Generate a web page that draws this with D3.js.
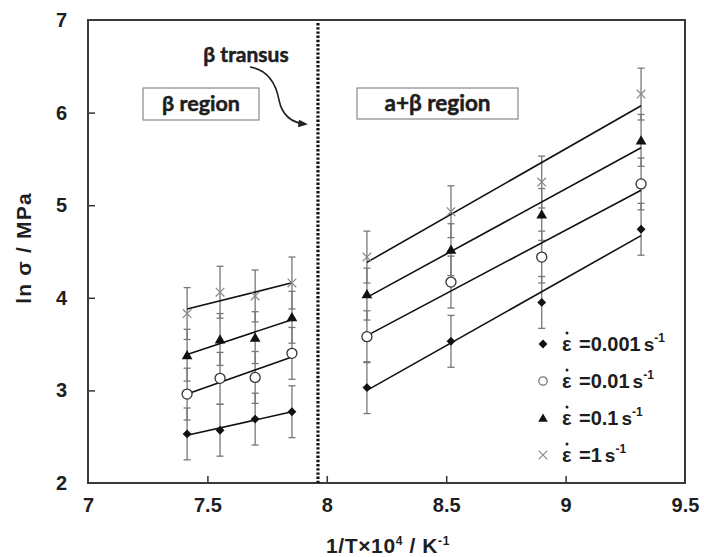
<!DOCTYPE html>
<html><head><meta charset="utf-8">
<script src="https://cdn.jsdelivr.net/npm/d3@7"></script>
<style>body{margin:0;background:#fff}svg{display:block}</style>
</head><body>
<svg id="c" width="704" height="557"></svg>
<script>
// ---- data ----
const xBeta = [7.415, 7.553, 7.70, 7.854];
const xAlphaBeta = [8.168, 8.52, 8.90, 9.316];
const seriesNames = ["0.001", "0.01", "0.1", "1"];
const betaValues = [
  [2.53, 2.57, 2.69, 2.77],
  [2.96, 3.13, 3.14, 3.40],
  [3.38, 3.55, 3.57, 3.79],
  [3.83, 4.06, 4.02, 4.16]
];
const alphaBetaValues = [
  [3.03, 3.53, 3.95, 4.74],
  [3.58, 4.17, 4.44, 5.23],
  [4.04, 4.52, 4.90, 5.70],
  [4.44, 4.93, 5.25, 6.20]
];
const errorHalf = [0.28, 0.28, 0.28, 0.28];
const xTicks = [7, 7.5, 8, 8.5, 9, 9.5];
const yTicks = [2, 3, 4, 5, 6, 7];
const betaTransus = 7.963;

// ---- layout ----
const svg = d3.select("#c");
const L = 88, T = 20, R = 685, B = 483;
const x = d3.scaleLinear().domain([7, 9.5]).range([L, R]);
const y = d3.scaleLinear().domain([2, 7]).range([B, T]);
const font = "'Liberation Sans', Arial, sans-serif";
const ink = "#1e1e1e";

// axes
const gx = svg.append("g").attr("transform", `translate(0,${B})`)
  .call(d3.axisBottom(x).tickValues(xTicks).tickSize(-7).tickPadding(15).tickFormat(d3.format("")));
const gy = svg.append("g").attr("transform", `translate(${L},0)`)
  .call(d3.axisLeft(y).tickValues(yTicks).tickSize(-7).tickPadding(21).tickFormat(d3.format("")));
[gx, gy].forEach(g => {
  g.select(".domain").remove();
  g.selectAll("text").attr("font-family", font).attr("font-weight", "bold")
    .attr("font-size", 20).attr("fill", ink);
  g.selectAll("line").attr("stroke", "#333").attr("stroke-width", 1.5);
});
gx.selectAll(".tick").filter(d => d === 7 || d === 9.5).select("line").remove();
gy.selectAll(".tick").filter(d => d === 2 || d === 7).select("line").remove();

// frame
svg.append("rect").attr("x", L).attr("y", T).attr("width", R - L).attr("height", B - T)
  .attr("fill", "none").attr("stroke", "#3a3a3a").attr("stroke-width", 2);

// beta transus dotted line
svg.append("line").attr("x1", x(betaTransus)).attr("x2", x(betaTransus))
  .attr("y1", T + 3).attr("y2", B)
  .attr("stroke", "#111").attr("stroke-width", 3.2).attr("stroke-dasharray", "2.4,1.8");

// region boxes
function box(x0, y0, w, h, label, fs) {
  svg.append("rect").attr("x", x0).attr("y", y0).attr("width", w).attr("height", h)
    .attr("fill", "#fff").attr("stroke", "#888").attr("stroke-width", 1.2);
  svg.append("text").attr("x", x0 + w / 2).attr("y", y0 + h / 2 + 7).attr("text-anchor", "middle")
    .attr("font-family", "Lato, sans-serif").attr("font-weight", "bold").attr("font-size", fs)
    .attr("fill", ink).attr("stroke", ink).attr("stroke-width", 0.5).text(label);
}
box(143, 88, 116, 32, "β region", 21.5);
box(357, 88, 161, 31, "a+β region", 22.5);

svg.append("text").attr("x", 246).attr("y", 62).attr("text-anchor", "middle")
  .attr("font-family", "Lato, sans-serif").attr("font-weight", "bold").attr("font-size", 21)
  .attr("fill", ink).attr("stroke", ink).attr("stroke-width", 0.5).text("β transus");

// arrow
const defs = svg.append("defs");
defs.append("marker").attr("id", "ah").attr("viewBox", "0 0 10 10").attr("refX", 8).attr("refY", 5)
  .attr("markerWidth", 6).attr("markerHeight", 6).attr("orient", "auto")
  .append("path").attr("d", "M0,1 L10,5 L0,9 Z").attr("fill", "#222");
svg.append("path").attr("d", "M250,67 C268,70 276,84 279,100 C282,115 292,123 306,124")
  .attr("fill", "none").attr("stroke", "#222").attr("stroke-width", 1.6).attr("marker-end", "url(#ah)");

// error bars
function errorBars(xs, vals) {
  vals.forEach((arr, si) => {
    arr.forEach((v, i) => {
      const cx = x(xs[i]), y1 = y(v - errorHalf[si]), y2 = y(v + errorHalf[si]);
      svg.append("line").attr("x1", cx).attr("x2", cx).attr("y1", y1).attr("y2", y2)
        .attr("stroke", "#777").attr("stroke-width", 1.3);
      [y1, y2].forEach(yy => svg.append("line").attr("x1", cx - 3.5).attr("x2", cx + 3.5)
        .attr("y1", yy).attr("y2", yy).attr("stroke", "#777").attr("stroke-width", 1.3));
    });
  });
}
errorBars(xBeta, betaValues);
errorBars(xAlphaBeta, alphaBetaValues);

// regression lines
function fitLine(xs, ys) {
  const mx = d3.mean(xs), my = d3.mean(ys);
  const sxy = d3.sum(xs, (v, i) => (v - mx) * (ys[i] - my));
  const sxx = d3.sum(xs, v => (v - mx) * (v - mx));
  const b = sxy / sxx, a = my - b * mx;
  const x0 = d3.min(xs), x1 = d3.max(xs);
  return [[x0, a + b * x0], [x1, a + b * x1]];
}
const lineGen = d3.line().x(d => x(d[0])).y(d => y(d[1]));
[[xBeta, betaValues], [xAlphaBeta, alphaBetaValues]].forEach(([xs, vals]) => {
  vals.forEach(arr => {
    svg.append("path").attr("d", lineGen(fitLine(xs, arr)))
      .attr("fill", "none").attr("stroke", "#111").attr("stroke-width", 1.6);
  });
});

// markers
function marker(g, si, cx, cy, legend) {
  if (si === 0) {
    g.append("path").attr("d", d3.symbol(d3.symbolDiamond2, 50)())
      .attr("transform", `translate(${cx},${cy})`).attr("fill", "#111");
  } else if (si === 1) {
    g.append("circle").attr("cx", cx).attr("cy", cy).attr("r", legend ? 4.2 : 5)
      .attr("fill", "#fff").attr("stroke", legend ? "#777" : "#333").attr("stroke-width", 1.3);
  } else if (si === 2) {
    g.append("path").attr("d", d3.symbol(d3.symbolTriangle, legend ? 40 : 50)())
      .attr("transform", `translate(${cx},${cy + 1})`).attr("fill", "#111");
  } else {
    g.append("path").attr("d", d3.symbol(d3.symbolX, 50)())
      .attr("transform", `translate(${cx},${cy})`).attr("fill", "none")
      .attr("stroke", "#888").attr("stroke-width", 1.2);
  }
}
const gm = svg.append("g");
[[xBeta, betaValues], [xAlphaBeta, alphaBetaValues]].forEach(([xs, vals]) => {
  vals.forEach((arr, si) => arr.forEach((v, i) => marker(gm, si, x(xs[i]), y(v), false)));
});

// legend
const legY = [351, 388, 425, 462];
seriesNames.forEach((name, si) => {
  const by = legY[si];
  marker(svg, si, 543, by - 7, true);
  svg.append("text").attr("x", 562).attr("y", by)
    .attr("font-family", font).attr("font-weight", "bold").attr("font-size", 20).attr("fill", ink)
    .text("ε");
  svg.append("circle").attr("cx", 567).attr("cy", by - 18).attr("r", 1.5).attr("fill", ink);
  const t = svg.append("text").attr("x", 579).attr("y", by)
    .attr("font-family", font).attr("font-weight", "bold").attr("font-size", 20).attr("fill", ink);
  t.append("tspan").text("=" + name);
  t.append("tspan").attr("dx", 3).attr("font-size", 19).text("s");
  t.append("tspan").attr("dy", -9).attr("font-size", 12).text("-1");
});

// axis titles
const xt = svg.append("text").attr("x", 388).attr("y", 553).attr("text-anchor", "middle")
  .attr("font-family", font).attr("font-weight", "bold").attr("font-size", 21).attr("fill", ink)
  .attr("letter-spacing", 0.6);
xt.append("tspan").text("1/T×10");
xt.append("tspan").attr("dy", -8).attr("font-size", 12).text("4");
xt.append("tspan").attr("dy", 8).text(" / K");
xt.append("tspan").attr("dy", -8).attr("font-size", 12).text("-1");

svg.append("text").attr("transform", "translate(31,248) rotate(-90)").attr("text-anchor", "middle")
  .attr("font-family", font).attr("font-weight", "bold").attr("font-size", 21).attr("fill", ink)
  .attr("letter-spacing", 1.2)
  .text("ln σ / MPa");
</script>
</body></html>
